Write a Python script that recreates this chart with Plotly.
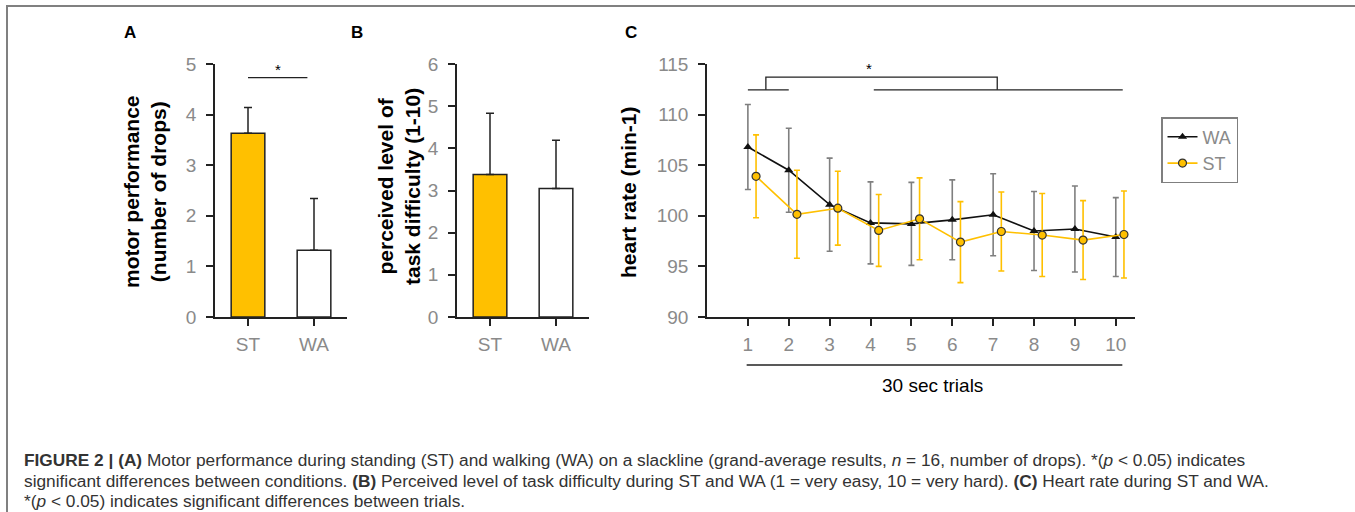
import plotly.graph_objects as go

W, H = 1355, 512

# ---------------- data ----------------
conditions = ["ST", "WA"]
drops_mean = [3.63, 1.32]
drops_sd = [0.51, 1.02]
difficulty_mean = [3.38, 3.05]
difficulty_sd = [1.45, 1.14]

trials = [1, 2, 3, 4, 5, 6, 7, 8, 9, 10]
hr_wa = [106.8, 104.5, 101.1, 99.3, 99.2, 99.6, 100.1, 98.5, 98.7, 97.9]
hr_wa_sd = [4.2, 4.15, 4.6, 4.05, 4.1, 3.95, 4.05, 3.9, 4.25, 3.9]
hr_st = [103.9, 100.15, 100.75, 98.55, 99.7, 97.4, 98.45, 98.1, 97.6, 98.15]
hr_st_sd = [4.1, 4.35, 3.65, 3.55, 4.05, 4.0, 3.9, 4.1, 3.9, 4.3]
st_offset = 0.2

bar_colors = ["#FFC000", "#FFFFFF"]
YELLOW = "#FFC000"
TICK_GRAY = "#8a8a8a"
AXIS = "#222222"
FONT = "Liberation Sans, Arial, sans-serif"


def px(x):
    return x / W


def py(y):
    return 1 - y / H


fig = go.Figure()

# Panel A bars
fig.add_trace(go.Bar(
    x=conditions, y=drops_mean, width=0.51,
    marker=dict(color=bar_colors, line=dict(color=AXIS, width=1.5)),
    error_y=dict(type="data", array=drops_sd, arrayminus=[0, 0], symmetric=False,
                 color=AXIS, thickness=1.5, width=4),
    xaxis="x", yaxis="y", showlegend=False, hoverinfo="skip"))

# Panel B bars
fig.add_trace(go.Bar(
    x=conditions, y=difficulty_mean, width=0.51,
    marker=dict(color=bar_colors, line=dict(color=AXIS, width=1.5)),
    error_y=dict(type="data", array=difficulty_sd, arrayminus=[0, 0], symmetric=False,
                 color=AXIS, thickness=1.5, width=4),
    xaxis="x2", yaxis="y2", showlegend=False, hoverinfo="skip"))

# Panel C lines
fig.add_trace(go.Scatter(
    x=trials, y=hr_wa, mode="lines+markers", name="WA",
    line=dict(color="#111111", width=1.6),
    marker=dict(symbol="triangle-up", size=8, color="#111111"),
    error_y=dict(type="data", array=hr_wa_sd, color="#7f7f7f", thickness=1.6, width=3),
    xaxis="x3", yaxis="y3"))
fig.add_trace(go.Scatter(
    x=[t + st_offset for t in trials], y=hr_st, mode="lines+markers", name="ST",
    line=dict(color=YELLOW, width=1.6),
    marker=dict(symbol="circle", size=8, color=YELLOW, line=dict(color="#333333", width=1.2)),
    error_y=dict(type="data", array=hr_st_sd, color=YELLOW, thickness=1.6, width=3),
    xaxis="x3", yaxis="y3"))

tickfont = dict(family=FONT, size=19, color=TICK_GRAY)
common = dict(showline=True, linecolor=AXIS, linewidth=1.5, ticks="outside",
              tickcolor=AXIS, ticklen=7, tickwidth=1.5, tickfont=tickfont,
              showgrid=False, zeroline=False, fixedrange=True, automargin=False)
xextra = dict(ticklabelstandoff=2)
yextra = dict(ticklabelstandoff=6)

ydom = [py(317), py(64)]

fig.update_layout(
    template="none",
    width=W, height=H, margin=dict(l=0, r=0, t=0, b=0, pad=0, autoexpand=False),
    paper_bgcolor="white", plot_bgcolor="rgba(0,0,0,0)",
    font=dict(family=FONT),
    xaxis=dict(domain=[px(215), px(347)], range=[-0.5, 1.5], anchor="y", **common, **xextra),
    yaxis=dict(domain=ydom, range=[0, 5], dtick=1, anchor="x", **common, **yextra),
    xaxis2=dict(domain=[px(457), px(589)], range=[-0.5, 1.5], anchor="y2", **common, **xextra),
    yaxis2=dict(domain=ydom, range=[0, 6], dtick=1, anchor="x2", **common, **yextra),
    xaxis3=dict(domain=[px(707), px(1135)], range=[0, 10.47], anchor="y3",
                tickvals=trials, **common, **xextra),
    yaxis3=dict(domain=ydom, range=[90, 115], dtick=5, anchor="x3", **common, **yextra),
    legend=dict(x=px(1161), y=py(117), xanchor="left", yanchor="top",
                bordercolor="#7f7f7f", borderwidth=1.5, bgcolor="white",
                font=dict(family=FONT, size=18, color=TICK_GRAY),
                itemwidth=30, tracegroupgap=0),
    showlegend=True,
)

shapes = []
line_k = dict(color="#222222", width=1.3)
# Panel A significance line
shapes.append(dict(type="line", xref="x", yref="y", x0=0, x1=0.9, y0=4.73, y1=4.73, line=line_k))
# Panel C significance brackets
shapes.append(dict(type="line", xref="x3", yref="y3", x0=1, x1=2, y0=112.45, y1=112.45, line=line_k))
shapes.append(dict(type="line", xref="x3", yref="y3", x0=4.08, x1=10.17, y0=112.45, y1=112.45, line=line_k))
shapes.append(dict(type="path", xref="x3", yref="y3",
                   path="M 1.44 112.45 L 1.44 113.7 L 7.1 113.7 L 7.1 112.45", line=line_k))
# "30 sec trials" line
shapes.append(dict(type="line", xref="x3", yref="paper", x0=0.97, x1=10.16, y0=py(365), y1=py(365), line=line_k))
# figure frame
shapes.append(dict(type="rect", xref="paper", yref="paper", x0=px(7), x1=px(1400), y0=py(6), y1=py(560),
                   line=dict(color="#808080", width=2)))
fig.update_layout(shapes=shapes)

ann = []


def note(text, x, y, font, **kw):
    d = dict(text=text, x=x, y=y, xref="paper", yref="paper", showarrow=False,
             xanchor="center", yanchor="middle", font=font)
    d.update(kw)
    ann.append(d)


lab = dict(family=FONT, size=17, color="black")
note("<b>A</b>", px(130), py(32), lab)
note("<b>B</b>", px(357), py(32), lab)
note("<b>C</b>", px(631), py(32), lab)
# stars
starf = dict(family=FONT, size=15, color="black")
ann.append(dict(text="*", x=0.45, y=4.9, xref="x", yref="y", showarrow=False,
                xanchor="center", yanchor="middle", font=starf))
ann.append(dict(text="*", x=3.96, y=114.6, xref="x3", yref="y3", showarrow=False,
                xanchor="center", yanchor="middle", font=starf))
# y titles
ytf = dict(family=FONT, size=21, color="black")
note("<b>motor performance<br>(number of drops)</b>", px(145), py(192), ytf, textangle=-90)
note("<b>perceived level of<br>task difficulty (1-10)</b>", px(399), py(187), ytf, textangle=-90)
note("<b>heart rate (min-1)</b>", px(628), py(192), ytf, textangle=-90)
# x title C
note("30 sec trials", px(932), py(385), dict(family=FONT, size=19, color="black"))
# caption
capf = dict(family=FONT, size=17.3, color="#333333")
cap_lines = [
    "<b>FIGURE 2 | (A)</b> Motor performance during standing (ST) and walking (WA) on a slackline "
    "(grand-average results, <i>n</i> = 16, number of drops). *(<i>p</i> &lt; 0.05) indicates",
    "significant differences between conditions. <b>(B)</b> Perceived level of task difficulty during ST "
    "and WA (1 = very easy, 10 = very hard). <b>(C)</b> Heart rate during ST and WA.",
    "*(<i>p</i> &lt; 0.05) indicates significant differences between trials.",
]
cap_y = [460, 481, 501]
for t, yy in zip(cap_lines, cap_y):
    note(t, px(22), py(yy), capf, xanchor="left")
fig.update_layout(annotations=ann)

post = (
    "document.documentElement.style.margin='0px';"
    "document.documentElement.style.overflow='hidden';"
    "document.body.style.margin='0px';document.body.style.padding='0px';"
    "document.body.style.overflow='hidden';"
    "var gd=document.getElementById('{plot_id}');"
    "gd.style.position='absolute';gd.style.left='0px';gd.style.top='0px';"
)
fig.write_html("out.html", config={"displayModeBar": False}, post_script=post)
